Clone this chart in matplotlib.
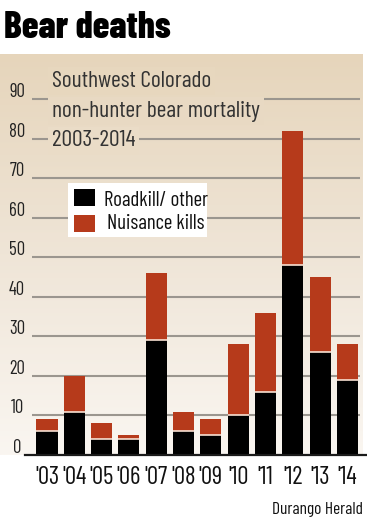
import numpy as np
import matplotlib
matplotlib.use('Agg')
import matplotlib.pyplot as plt
from matplotlib import font_manager
from matplotlib.colors import LinearSegmentedColormap
from matplotlib.patches import Rectangle

# Data
years = ["'03", "'04", "'05", "'06", "'07", "'08", "'09", "'10", "'11", "'12", "'13", "'14"]
roadkill = [6, 11, 4, 4, 29, 6, 5, 10, 16, 48, 26, 19]
nuisance = [3, 9, 4, 1, 17, 5, 4, 18, 20, 34, 19, 9]
yticks = [0, 10, 20, 30, 40, 50, 60, 70, 80, 90]
series = ['Roadkill/ other', 'Nuisance kills']
colors = ['black', '#b63a1b']

# condensed face, falls back to DejaVu Sans Condensed
avail = {f.name for f in font_manager.fontManager.ttflist}
face = next((c for c in ['Barlow Condensed', 'Archivo Narrow', 'Liberation Sans Narrow']
             if c in avail), 'DejaVu Sans')
plt.rcParams['font.family'] = [face, 'DejaVu Sans']
plt.rcParams['font.stretch'] = 'condensed'

W, H = 367, 530
fig = plt.figure(figsize=(W / 100, H / 100), dpi=100)
fig.patch.set_facecolor('white')

# main axes: panel from x=0..363 px, y=54..455 px
ax = fig.add_axes([0, (H - 455) / H, 363 / W, 401 / H])
px = 27.32  # pixels per bar slot
def dx(p):
    return (p - 47) / px

ymax = 101.5
ax.set_xlim(dx(0), dx(363))
ax.set_ylim(0, ymax)
ax.axis('off')

# background gradient
cmap = LinearSegmentedColormap.from_list('bg', ['#faf6f1', '#efe5d7', '#e6d5bb'])
grad = np.linspace(0, 1, 256).reshape(-1, 1)
ax.imshow(grad, aspect='auto', cmap=cmap, origin='lower',
          extent=[0, 1, 0, 1], transform=ax.transAxes, zorder=0)

# gridlines
ax.hlines(yticks[1:], dx(32), dx(360), color='#9b968f', lw=1.5, zorder=1)

x = np.arange(len(years))
bw = 0.77
ax.bar(x, roadkill, bw, color=colors[0], zorder=3)
ax.bar(x, nuisance, bw, bottom=roadkill, color=colors[1], zorder=3)
# thin light separator between segments
ax.hlines(roadkill, x - bw / 2, x + bw / 2, color='#f8e0d2', lw=1.2, zorder=4)

# baseline axis
ax.plot([dx(25), dx(366)], [0, 0], color='#1a1a1a', lw=1.6,
        clip_on=False, zorder=5)

# y tick labels
for v in yticks:
    ax.text(dx(17), v + 0.6, str(v), ha='center', va='baseline',
            fontsize=13.5, color='#222222', zorder=5)

# x tick labels
for xi, lab in zip(x, years):
    ax.text(xi, -7.4, lab, ha='center', va='baseline', fontsize=18,
            color='#111111', clip_on=False)

# chart subtitle, each line masking the gridlines behind it
sub = ['Southwest Colorado', 'non-hunter bear mortality', '2003-2014']
sub_y = [93.2, 85.6, 78.2]
for s, yy in zip(sub, sub_y):
    ax.text(dx(52), yy, s, ha='left', va='baseline', fontsize=17,
            color='#333333', zorder=6,
            bbox=dict(boxstyle='square,pad=0.15', fc=cmap((yy + 2) / ymax), ec='none'))

# legend box
ax.add_patch(Rectangle((dx(68), 55.2), 139 / px, 13.7,
                       facecolor='white', edgecolor='none', zorder=6))
ax.add_patch(Rectangle((dx(74), 62.9), 21 / px, 4.4,
                       facecolor=colors[0], edgecolor='none', zorder=7))
ax.add_patch(Rectangle((dx(74), 56.5), 21 / px, 4.3,
                       facecolor=colors[1], edgecolor='none', zorder=7))
ax.text(dx(104), 63.0, series[0], ha='left', va='baseline',
        fontsize=15, color='#111111', zorder=7)
ax.text(dx(107), 57.2, series[1], ha='left', va='baseline',
        fontsize=15, color='#111111', zorder=7)

# headline and credit
fig.text(4 / W, 1 - 38 / H, 'Bear deaths', ha='left', va='baseline',
         fontsize=27, fontweight='heavy', color='black')
fig.text(363 / W, 1 - 514 / H, 'Durango Herald', ha='right', va='baseline',
         fontsize=12.5, color='#111111')

fig.savefig('out.png', dpi=100)
